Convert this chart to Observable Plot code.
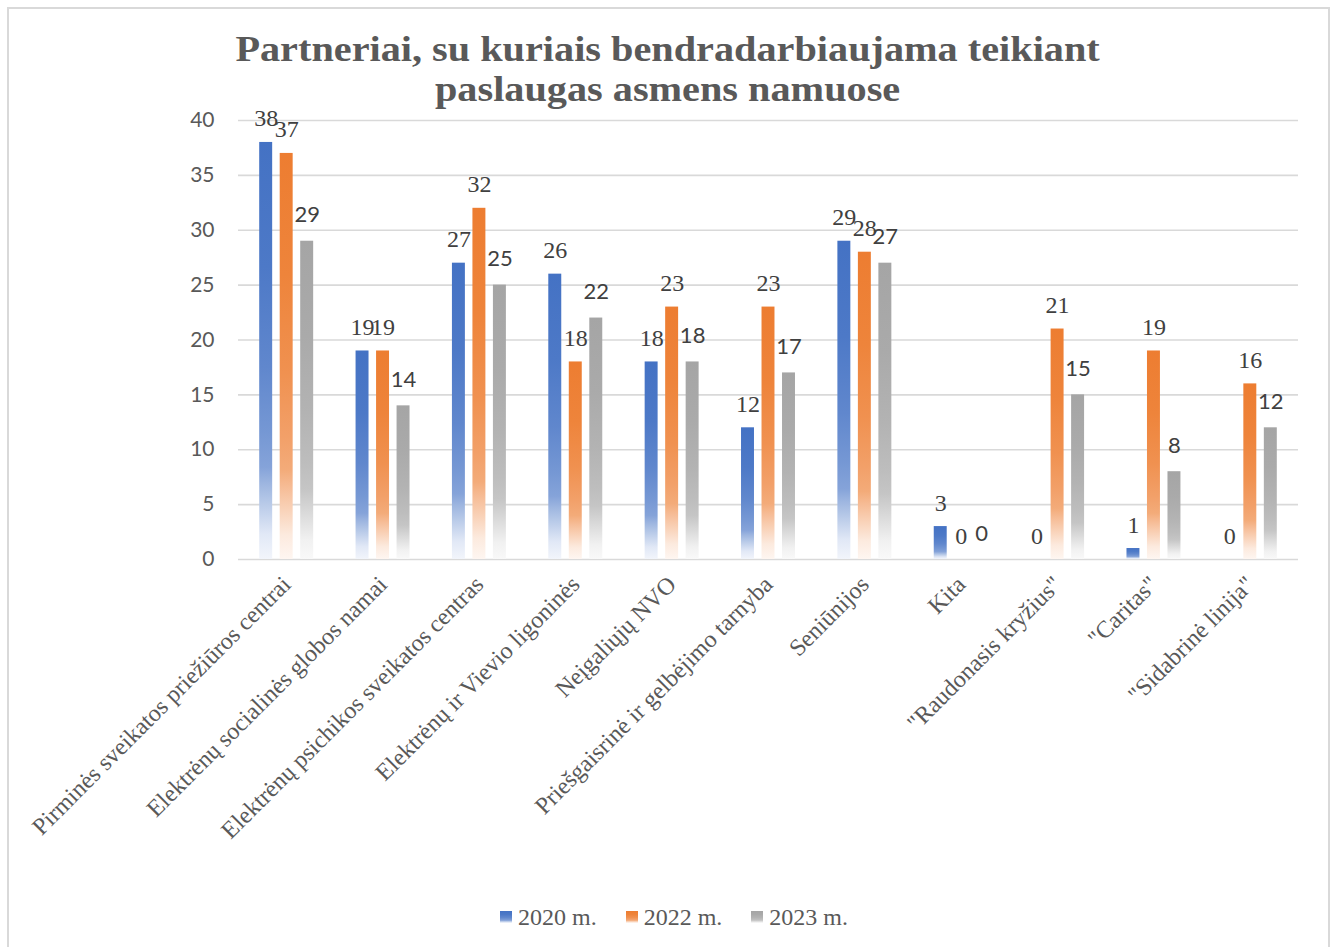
<!DOCTYPE html>
<html>
<head>
<meta charset="utf-8">
<script src="https://cdn.jsdelivr.net/npm/d3@7"></script>
<script src="https://cdn.jsdelivr.net/npm/@observablehq/plot@0.6"></script>
<style>
  html, body { margin: 0; padding: 0; background: #fff; overflow: hidden; }
  #chart { position: relative; width: 1335px; height: 947px; }
  #frame { position: absolute; left: 7px; top: 7px; width: 1323px; height: 980px; border: 2px solid #d9d9d9; box-sizing: border-box; }
  #plot { position: absolute; left: 0; top: 0; }
  #title { position: absolute; left: 0; top: 30px; width: 1335px; text-align: center;
           font-family: "Liberation Serif", "Times New Roman", serif; font-weight: bold; font-size: 35px;
           line-height: 40px; color: #595959; transform: scaleX(1.15); transform-origin: 667px 0; }
  #legend { position: absolute; left: 500px; top: 903px; height: 28px; display: flex; align-items: center;
            font-family: "Liberation Serif", "Times New Roman", serif; font-size: 24px; line-height: 28px; color: #595959; }
  .item { display: flex; align-items: center; margin-right: 29px; }
  .swatch { width: 12px; height: 12px; margin-right: 6px; }
</style>
</head>
<body>
<div id="chart">
  <div id="frame"></div>
  <div id="plot"></div>
  <div id="title"></div>
  <div id="legend"></div>
</div>
<script>
// ---- data ----
const titleLines = ["Partneriai, su kuriais bendradarbiaujama teikiant", "paslaugas asmens namuose"];
const categories = [
  "Pirminės sveikatos priežiūros centrai",
  "Elektrėnų socialinės globos namai",
  "Elektrėnų psichikos sveikatos centras",
  "Elektrėnų ir Vievio ligoninės",
  "Neįgaliųjų NVO",
  "Priešgaisrinė ir gelbėjimo tarnyba",
  "Seniūnijos",
  "Kita",
  "\"Raudonasis kryžius\"",
  "\"Caritas\"",
  "\"Sidabrinė linija\""
];
const series = ["2020 m.", "2022 m.", "2023 m."];
const values2020 = [38, 19, 27, 26, 18, 12, 29, 3, 0, 1, 0];
const values2022 = [37, 19, 32, 18, 23, 23, 28, 0, 21, 19, 16];
const values2023 = [29, 14, 25, 22, 18, 17, 27, 0, 15, 8, 12];
const yTicks = [0, 5, 10, 15, 20, 25, 30, 35, 40];

// ---- styles ----
const colors = ["#4472C4", "#ED7D31", "#A5A5A5"];
const gradStops = [[0, 0], [0.3, 0.05], [0.54, 0.15], [0.7, 0.27], [0.78, 0.35], [0.82, 0.48], [0.86, 0.6], [0.94, 0.84], [1, 0.93]];
const offsets = [-20.5, 0, 20.5];

const seriesValues = [values2020, values2022, values2023];
const rows = series.map((s, si) => categories.map((c, ci) => ({category: c, series: s, value: seriesValues[si][ci]})));

const barMarks = rows.map((data, i) => Plot.barY(data, {
  x: "category", y: "value", dx: offsets[i], insetLeft: 41.7, insetRight: 41.7, fill: `url(#grad${i})`
}));
const labelMarks = rows.map((data, i) => Plot.text(data, {
  x: "category", y: "value", text: d => String(d.value), dx: offsets[i],
  dy: i === 2 ? -19 : -16, lineAnchor: "bottom",
  fontFamily: i === 2 ? "Lato" : "Liberation Serif", fontSize: i === 2 ? 22 : 24, fill: "#404040"
}));

const chart = Plot.plot({
  width: 1335, height: 880,
  marginTop: 120, marginBottom: 321, marginLeft: 238, marginRight: 37,
  style: {background: "transparent", overflow: "visible"},
  x: {type: "band", domain: categories, padding: 0, round: false},
  y: {domain: [0, 40]},
  marks: [
    Plot.gridY(yTicks, {stroke: "#d9d9d9", strokeOpacity: 1, strokeWidth: 1.6}),
    Plot.axisY({ticks: yTicks, tickSize: 0, tickPadding: 24, fontSize: 21, fontFamily: "Lato", fill: "#595959", label: null}),
    Plot.axisX({tickRotate: -45, tickSize: 0, tickPadding: 21, fontSize: 24, fontFamily: "Liberation Serif", fill: "#595959", label: null}),
    ...barMarks,
    ...labelMarks
  ]
});

// gradients
const ns = "http://www.w3.org/2000/svg";
const defs = document.createElementNS(ns, "defs");
colors.forEach((c, i) => {
  const g = document.createElementNS(ns, "linearGradient");
  g.setAttribute("id", `grad${i}`);
  g.setAttribute("x1", "0"); g.setAttribute("y1", "0"); g.setAttribute("x2", "0"); g.setAttribute("y2", "1");
  const mix = d3.interpolateRgb(c, "#ffffff");
  gradStops.forEach(([o, t]) => {
    const s = document.createElementNS(ns, "stop");
    s.setAttribute("offset", o);
    s.setAttribute("stop-color", mix(t));
    g.appendChild(s);
  });
  defs.appendChild(g);
});
chart.insertBefore(defs, chart.firstChild);
document.getElementById("plot").appendChild(chart);

// title
const title = document.getElementById("title");
titleLines.forEach(t => { const d = document.createElement("div"); d.textContent = t; title.appendChild(d); });

// legend
const legend = document.getElementById("legend");
series.forEach((s, i) => {
  const mix = d3.interpolateRgb(colors[i], "#ffffff");
  const item = document.createElement("div"); item.className = "item";
  const sw = document.createElement("div"); sw.className = "swatch";
  sw.style.background = `linear-gradient(to bottom, ${gradStops.map(([o, t]) => `${mix(t)} ${o * 100}%`).join(", ")})`;
  const tx = document.createElement("span"); tx.textContent = s;
  item.appendChild(sw); item.appendChild(tx); legend.appendChild(item);
});
</script>
</body>
</html>
